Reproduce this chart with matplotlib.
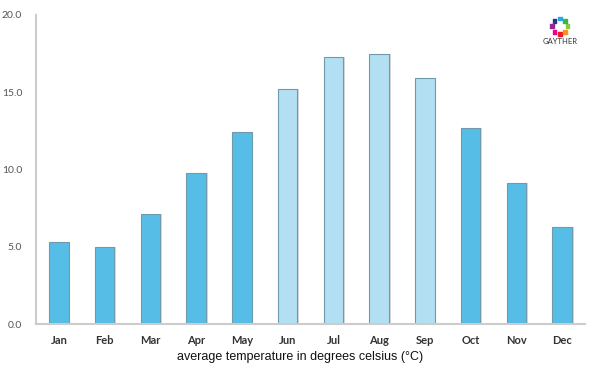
import numpy as np
import matplotlib
matplotlib.use('Agg')
import matplotlib.pyplot as plt

months = ['Jan', 'Feb', 'Mar', 'Apr', 'May', 'Jun', 'Jul', 'Aug', 'Sep', 'Oct', 'Nov', 'Dec']
temps = [5.3, 5.0, 7.1, 9.8, 12.4, 15.2, 17.3, 17.5, 15.9, 12.7, 9.1, 6.3]
summer = ['Jun', 'Jul', 'Aug', 'Sep']
yticks = [0, 5, 10, 15, 20]

dark = '#56bde6'
light = '#b2dff1'
colors = [light if m in summer else dark for m in months]

fig = plt.figure(figsize=(6, 3.75), dpi=100)
ax = fig.add_axes([0.06, 0.136, 0.915, 0.824])

x = np.arange(len(months))
# soft shadow behind bars
ax.bar(x + 0.03, temps, width=0.44, color='#d8d8d8', zorder=1)
ax.bar(x, temps, width=0.43, color=colors, edgecolor='#6f9aab', linewidth=0.8, zorder=2)

ax.set_xlim(-0.5, len(months) - 0.5)
ax.set_ylim(0, 20)
ax.set_xticks(x)
ax.set_xticklabels(months, fontsize=8, fontweight='bold', color='#333333', family='Lato')
ax.set_yticks(yticks)
ax.set_yticklabels(['%.1f' % v for v in yticks], fontsize=7.5, color='#555555', family='Lato')
ax.tick_params(length=0, pad=8)
ax.tick_params(axis='y', pad=10)
for s in ['top', 'right']:
    ax.spines[s].set_visible(False)
for s in ['left', 'bottom']:
    ax.spines[s].set_color('#cccccc')
    ax.spines[s].set_linewidth(1.5)

fig.text(0.5, 0.048, 'average temperature in degrees celsius (°C)', ha='center', va='center',
         fontsize=9, family='Liberation Sans', color='#111111')

# logo
logo = fig.add_axes([0.905, 0.885, 0.056, 0.09])
ang = np.linspace(0, 2 * np.pi, 8, endpoint=False)
logo_colors = ['#8dc63f', '#39b54a', '#27aae1', '#2e3192', '#92278f', '#ec008c', '#ed1c24', '#f7941d']
logo.scatter(np.cos(ang), np.sin(ang), s=7, c=logo_colors, marker='s')
logo.set_xlim(-2.2, 2.2)
logo.set_ylim(-2.2, 2.2)
logo.axis('off')
fig.text(0.933, 0.888, 'GAYTHER', ha='center', va='center', fontsize=5.5, color='#333333', family='Lato')

fig.savefig('out.png', dpi=100)
